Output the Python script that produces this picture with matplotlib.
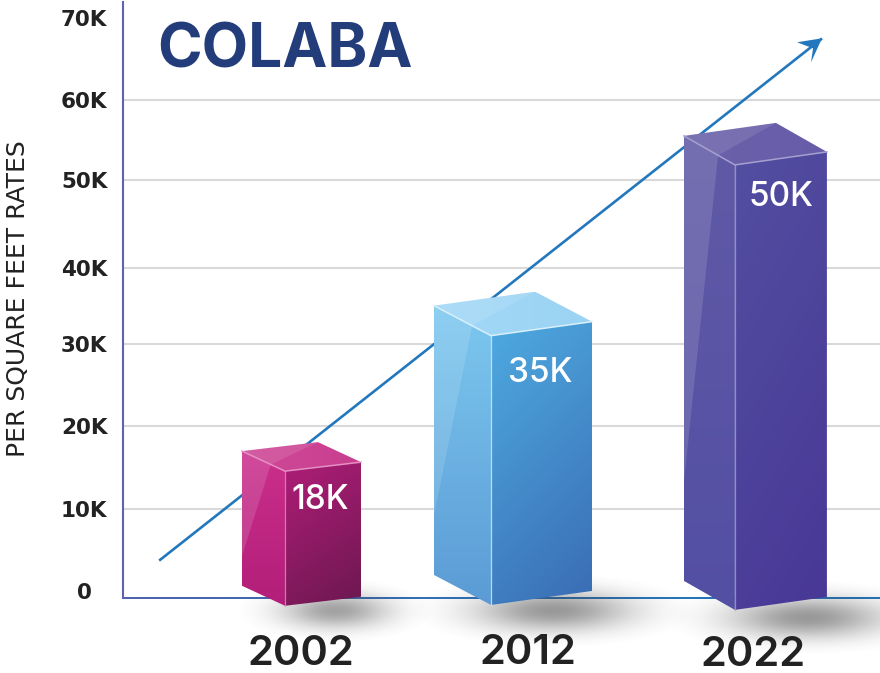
import numpy as np
import matplotlib
matplotlib.use("Agg")
import matplotlib.pyplot as plt
from matplotlib.patches import Polygon
from matplotlib.colors import LinearSegmentedColormap

plt.rcParams['font.family'] = ['Inter', 'DejaVu Sans']

# values
years = ['2002', '2012', '2022']
bar_labels = ['18K', '35K', '50K']
bar_tops = [14.6, 31.1, 51.9]
bar_bases = [-1.8, -1.7, -2.3]
tick_values = [0, 10.0, 20.1, 30.1, 39.35, 50.0, 59.8, 69.8]
tick_labels = ['0', '10K', '20K', '30K', '40K', '50K', '60K', '70K']
trend_x = [-0.606, 2.602]
trend_y = [3.8, 67.2]

# layout of the bars, in the units of the axes
bar_pos = [0, 1, 2.184]
# left dx, left rise, right dx, right rise, in pixels
bar_shape = [(43, 20, 76, 9), (57, 30, 101, 14), (51, 29, 92, 13)]

left_cols = [('#cb2f8c', '#b21e79'), ('#7cc8ef', '#5b9bd5'), ('#605aa6', '#534fa3')]
right_cols = [('#ae1d77', '#6c1850'), ('#4eaae0', '#3a6cb4'), ('#524fa1', '#493796')]
top_cols = [('#cf4a98', '#c93e8f'), ('#a3d8f6', '#9bd3f4'), ('#6c62ab', '#665ca8')]
edge_cols = ['#e58fc3', '#d8effc', '#a5a0cf']

PX_X = 206.0
PX_Y = 8.21


def to_data(x, v, dx=0, dy=0):
    return (x + dx / PX_X, v + dy / PX_Y)


def fill_gradient(ax, pts, cols, angle, zorder):
    # a small image clipped to the polygon, angle in degrees, 0 = left to right, 90 = upwards
    pts = np.array(pts)
    xmin, xmax = pts[:, 0].min(), pts[:, 0].max()
    ymin, ymax = pts[:, 1].min(), pts[:, 1].max()
    gx, gy = np.meshgrid(np.linspace(0, 1, 128), np.linspace(0, 1, 128))
    a = np.radians(angle)
    g = gx * np.cos(a) + gy * np.sin(a)
    g = (g - g.min()) / (g.max() - g.min())
    cmap = LinearSegmentedColormap.from_list('g', cols)
    im = ax.imshow(g, cmap=cmap, extent=(xmin, xmax, ymin, ymax), origin='lower',
                   aspect='auto', zorder=zorder, interpolation='bilinear')
    clip = Polygon(pts, closed=True, transform=ax.transData)
    im.set_clip_path(clip)
    # the faces run below the axes, so the image may not stop at the axes box
    im.set_clip_box(ax.figure.bbox)


def draw_shadow(ax, cx, cy, w, h, alpha, zorder):
    gx, gy = np.meshgrid(np.linspace(-1, 1, 200), np.linspace(-1, 1, 120))
    d = np.exp(-3.5 * (gx ** 2 + gy ** 2))
    d = np.clip(d - np.exp(-3.5), 0, None)
    rgba = np.zeros(d.shape + (4,))
    rgba[..., :3] = 0.25
    rgba[..., 3] = d * alpha
    x0 = cx - w / 2 / PX_X
    x1 = cx + w / 2 / PX_X
    y0 = cy - h / 2 / PX_Y
    y1 = cy + h / 2 / PX_Y
    ax.imshow(rgba, extent=(x0, x1, y0, y1), origin='lower', aspect='auto',
              zorder=zorder, clip_on=False, interpolation='bilinear')


def draw_bar(ax, i):
    x = bar_pos[i]
    top = bar_tops[i]
    base = bar_bases[i]
    ldx, lup, rdx, rup = bar_shape[i]

    front_t = to_data(x, top)
    front_b = to_data(x, base)
    left_t = to_data(x, top, -ldx, lup)
    left_b = to_data(x, base, -ldx, lup)
    right_t = to_data(x, top, rdx, rup)
    right_b = to_data(x, base, rdx, rup)
    back_t = to_data(x, top, rdx - ldx, rup + lup)

    fill_gradient(ax, [left_t, front_t, front_b, left_b], left_cols[i], 270, 5)
    fill_gradient(ax, [front_t, right_t, right_b, front_b], right_cols[i], 290, 5)
    fill_gradient(ax, [left_t, back_t, right_t, front_t], top_cols[i], 0, 5)

    # glossy patches on the left face and the top
    apex = to_data(x, top, -ldx * 0.33, lup * 0.33)
    foot = to_data(x, top + (base - top) * 0.78, -ldx, lup)
    ax.add_patch(Polygon([left_t, apex, foot], closed=True, fc='white', ec='none',
                         alpha=0.13, zorder=6, clip_on=False))
    ax.add_patch(Polygon([left_t, back_t, apex], closed=True, fc='white', ec='none',
                         alpha=0.10, zorder=6, clip_on=False))

    # light edges round the front corner
    ex = [left_t[0], front_t[0], right_t[0]]
    ey = [left_t[1], front_t[1], right_t[1]]
    ax.plot(ex, ey, color=edge_cols[i], lw=1.1, zorder=7, clip_on=False)
    ax.plot([front_t[0], front_b[0]], [front_t[1], front_b[1]], color=edge_cols[i],
            lw=0.9, alpha=0.8, zorder=7, clip_on=False)


fig = plt.figure(figsize=(8.8, 6.73), dpi=100)
ax = fig.add_axes([123 / 880, (673 - 598) / 673, 757 / 880, 596 / 673])
xlim = ((123 - 285) / PX_X, (880 - 285) / PX_X)
ylim = ((591 - 598) / PX_Y, (591 - 2) / PX_Y)

ax.spines['top'].set_visible(False)
ax.spines['right'].set_visible(False)
ax.spines['left'].set_color('#5d63ae')
ax.spines['left'].set_linewidth(1.5)
ax.spines['bottom'].set_visible(False)

ax.set_yticks(tick_values)
ax.set_yticklabels(tick_labels, fontsize=15.5, fontweight='bold', color='#222222', ha='center',
                   family='DejaVu Sans')
ax.tick_params(axis='y', length=0, pad=28)
ax.set_xticks([])
for v in tick_values[1:-1]:
    ax.axhline(v, color='#d9d9d9', lw=1.5, zorder=1)

# base line fades from the purple of the axis into the blue of the arrow
base_cols = LinearSegmentedColormap.from_list('base', ['#5063ae', '#2a74bb', '#2377bd'])
ax.imshow(np.linspace(0, 1, 256).reshape(1, -1), cmap=base_cols, aspect='auto', zorder=2,
          extent=(xlim[0], xlim[1], ylim[0] - 1 / PX_Y, ylim[0] + 1 / PX_Y), clip_on=False)

# trend arrow
ax.plot(trend_x, trend_y, color='#2377bd', lw=1.9, zorder=3, clip_on=False)
tip = (trend_x[1], trend_y[1])
head = [to_data(tip[0], tip[1], 1, 1), to_data(tip[0], tip[1], -24, -3),
        to_data(tip[0], tip[1], -8, -9), to_data(tip[0], tip[1], -10, -23)]
ax.add_patch(Polygon(head, closed=True, fc='#2377bd', ec='none', zorder=3, clip_on=False))

# shadows under the bars
draw_shadow(ax, bar_pos[0] + 50 / PX_X, -2.4, 200, 66, 0.5, 4)
draw_shadow(ax, bar_pos[1] + 62 / PX_X, -2.4, 290, 76, 0.55, 4)
draw_shadow(ax, bar_pos[2] + 72 / PX_X, -3.3, 290, 76, 0.55, 4)

for i in range(len(years)):
    draw_bar(ax, i)

# value labels inside the bars
label_x = [35, 49, 46]
label_y = [-29, -37, -32]
for i, txt in enumerate(bar_labels):
    px, py = to_data(bar_pos[i], bar_tops[i], label_x[i], label_y[i])
    ax.text(px, py, txt, color='white', fontsize=24, fontweight='medium',
            ha='center', va='center', zorder=8)

# year labels below the axis
year_x = [16, 37, 18]
year_y = [-7.7, -7.5, -7.85]
for i, txt in enumerate(years):
    ax.text(bar_pos[i] + year_x[i] / PX_X, year_y[i], txt, color='#222222', fontsize=30,
            fontweight='semibold', ha='center', va='center', zorder=8, clip_on=False)

ax.text(0, (591 - 52) / PX_Y, 'COLABA', color='#233d7b', fontsize=43.5,
        fontweight='bold', ha='center', va='center', zorder=8)

fig.text(18 / 880, 1 - 299 / 673, 'PER SQUARE FEET RATES', rotation=90, fontsize=18,
         family='DejaVu Sans', color='#222222', ha='center', va='center')

ax.set_xlim(xlim)
ax.set_ylim(ylim)

fig.savefig('out.png', dpi=100)
